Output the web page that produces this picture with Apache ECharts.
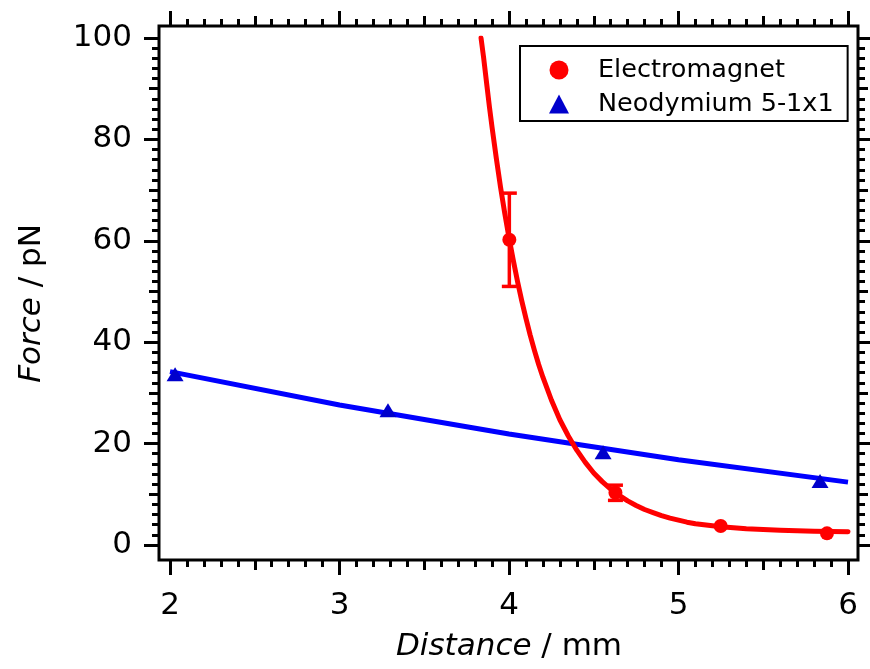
<!DOCTYPE html>
<html><head><meta charset="utf-8">
<script src="https://cdn.jsdelivr.net/npm/echarts@6/dist/echarts.min.js"></script>
<style>html,body{margin:0;padding:0;background:#fff}#c{width:870px;height:669px}</style>
</head><body><div id="c"></div>
<script>
// ---- data ----
const xTicks = [2, 3, 4, 5, 6];
const yTicks = [0, 20, 40, 60, 80, 100];

const emName = 'Electromagnet';
const emX = [4.002, 4.628, 5.249, 5.876];
const emY = [60.2, 10.3, 3.75, 2.3];
const emErr = [9.2, 1.5, 0, 0];

const emFitX = [3.835, 3.85, 3.87, 3.885, 3.9, 3.925, 3.95, 3.975, 4.0, 4.025, 4.05, 4.075, 4.1, 4.125, 4.15, 4.175, 4.2, 4.25, 4.3, 4.35, 4.4, 4.45, 4.5, 4.55, 4.6, 4.65, 4.7, 4.75, 4.8, 4.85, 4.9, 4.95, 5.0, 5.05, 5.1, 5.175, 5.25, 5.325, 5.4, 5.5, 5.6, 5.7, 5.8, 5.9, 6.0];
const emFitY = [100.0, 96.2, 90.5, 86.3, 82.4, 76.3, 70.6, 65.4, 60.6, 56.2, 52.0, 48.2, 44.7, 41.4, 38.4, 35.6, 33.1, 28.6, 24.7, 21.5, 18.7, 16.3, 14.2, 12.5, 11.0, 9.8, 8.7, 7.8, 7.0, 6.4, 5.8, 5.3, 4.9, 4.5, 4.2, 3.9, 3.6, 3.4, 3.2, 3.05, 2.9, 2.8, 2.7, 2.65, 2.6];

const ndName = 'Neodymium 5-1x1';
const ndX = [2.03, 3.286, 4.555, 5.835];
const ndY = [33.7, 26.6, 18.3, 12.6];

const ndFitX = [2.0, 3.0, 4.0, 5.0, 6.0];
const ndFitY = [34.2, 27.6, 21.9, 16.8, 12.4];

// ---- chart ----
const FONT = 'DejaVu Sans';
const BLACK = '#000';
const pairs = (xs, ys) => xs.map((x, i) => [x, ys[i]]);

const xMin = xTicks[0], xMax = xTicks[xTicks.length - 1], xInt = xTicks[1] - xTicks[0];
const yMin = yTicks[0], yMax = yTicks[yTicks.length - 1], yInt = yTicks[1] - yTicks[0];

function axisDef(isX, pos, offset, level, extra) {
  const major = level === 'major';
  return Object.assign({
    type: 'value', gridIndex: 0, position: pos, offset: offset,
    min: isX ? xMin : yMin, max: isX ? xMax : yMax,
    interval: (isX ? xInt : yInt) / (major ? 1 : 2),
    axisLine: { show: false, onZero: false },
    axisTick: { show: true, length: major ? 15 : 10, lineStyle: { color: BLACK, width: 3 } },
    minorTick: { show: !major, splitNumber: 5, length: 7, lineStyle: { color: BLACK, width: 3 } },
    axisLabel: { show: false },
    splitLine: { show: false }, minorSplitLine: { show: false }
  }, extra || {});
}

const labelStyle = { show: true, fontSize: 31, fontFamily: FONT, color: BLACK };
const nameStyle = (pad) => ({
  fontSize: 31, fontFamily: FONT, color: BLACK, padding: pad,
  rich: { i: { fontSize: 31, fontFamily: FONT, fontStyle: 'italic', color: BLACK } }
});

const option = {
  animation: false,
  backgroundColor: '#fff',
  grid: [
    { left: 170, right: 22, top: 38, bottom: 124 },
    { left: 159, right: 12, top: 26, bottom: 109, show: true, borderColor: BLACK, borderWidth: 3, backgroundColor: 'transparent' }
  ],
  xAxis: [
    axisDef(true, 'bottom', 15, 'major', {
      axisLabel: Object.assign({ margin: 30 }, labelStyle),
      name: '{i|Distance} / mm', nameLocation: 'middle', nameGap: 71, nameTextStyle: nameStyle([0, 0, 0, 0])
    }),
    axisDef(true, 'bottom', 15, 'minor'),
    axisDef(true, 'top', 12, 'major'),
    axisDef(true, 'top', 12, 'minor'),
    { type: 'value', gridIndex: 1, show: false, min: 0, max: 1 }
  ],
  yAxis: [
    axisDef(false, 'left', 11, 'major', {
      axisLabel: Object.assign({ margin: 27 }, labelStyle),
      name: '{i|Force} / pN', nameLocation: 'middle', nameGap: 112, nameTextStyle: nameStyle([0, 24, 0, 0])
    }),
    axisDef(false, 'left', 11, 'minor'),
    axisDef(false, 'right', 10, 'major'),
    axisDef(false, 'right', 10, 'minor'),
    { type: 'value', gridIndex: 1, show: false, min: 0, max: 1 }
  ],
  legend: {
    data: [
      { name: emName, icon: 'circle' },
      { name: ndName, icon: 'triangle' }
    ],
    orient: 'vertical', left: 520, top: 46,
    padding: [11, 14, 4, 29], itemGap: 8, itemWidth: 20, itemHeight: 19,
    borderColor: BLACK, borderWidth: 2, borderRadius: 0, backgroundColor: '#fff',
    selectedMode: false,
    formatter: '{t|{name}}',
    textStyle: {
      fontFamily: FONT, fontSize: 25.5, color: BLACK,
      rich: { t: { fontFamily: FONT, fontSize: 25.5, color: BLACK, lineHeight: 24, padding: [0, 0, 0, 24] } }
    }
  },
  series: [
    {
      name: 'ndFit', type: 'line', xAxisIndex: 0, yAxisIndex: 0,
      data: pairs(ndFitX, ndFitY), showSymbol: false, smooth: false,
      lineStyle: { color: '#0000FF', width: 5 }, itemStyle: { color: '#0000FF' }, silent: true, z: 2
    },
    {
      name: 'emFit', type: 'line', xAxisIndex: 0, yAxisIndex: 0,
      data: pairs(emFitX, emFitY), showSymbol: false, smooth: false,
      lineStyle: { color: '#FF0000', width: 5, join: 'round', cap: 'round' }, itemStyle: { color: '#FF0000' }, silent: true, z: 3
    },
    {
      name: 'emErr', type: 'custom', xAxisIndex: 0, yAxisIndex: 0,
      data: emX.map((x, i) => [x, emY[i], emErr[i]]).filter(d => d[2] > 0),
      encode: { x: 0, y: 1 },
      renderItem: function (params, api) {
        const x = api.value(0), y = api.value(1), e = api.value(2);
        const hi = api.coord([x, y + e]);
        const lo = api.coord([x, y - e]);
        const cw = 7.5;
        const st = { stroke: '#FF0000', lineWidth: 3.5, fill: null };
        return {
          type: 'group',
          children: [
            { type: 'line', shape: { x1: hi[0], y1: hi[1], x2: lo[0], y2: lo[1] }, style: st },
            { type: 'line', shape: { x1: hi[0] - cw, y1: hi[1], x2: hi[0] + cw, y2: hi[1] }, style: st },
            { type: 'line', shape: { x1: lo[0] - cw, y1: lo[1], x2: lo[0] + cw, y2: lo[1] }, style: st }
          ]
        };
      },
      silent: true, z: 4
    },
    {
      name: ndName, type: 'scatter', xAxisIndex: 0, yAxisIndex: 0,
      data: pairs(ndX, ndY), symbol: 'triangle', symbolSize: [17, 14],
      itemStyle: { color: '#0000CC', opacity: 1 }, z: 5
    },
    {
      name: emName, type: 'scatter', xAxisIndex: 0, yAxisIndex: 0,
      data: pairs(emX, emY), symbol: 'circle', symbolSize: 14,
      itemStyle: { color: '#FF0000', opacity: 1 }, z: 5
    }
  ]
};

const chart = echarts.init(document.getElementById('c'));
chart.setOption(option);
</script>
</body></html>
